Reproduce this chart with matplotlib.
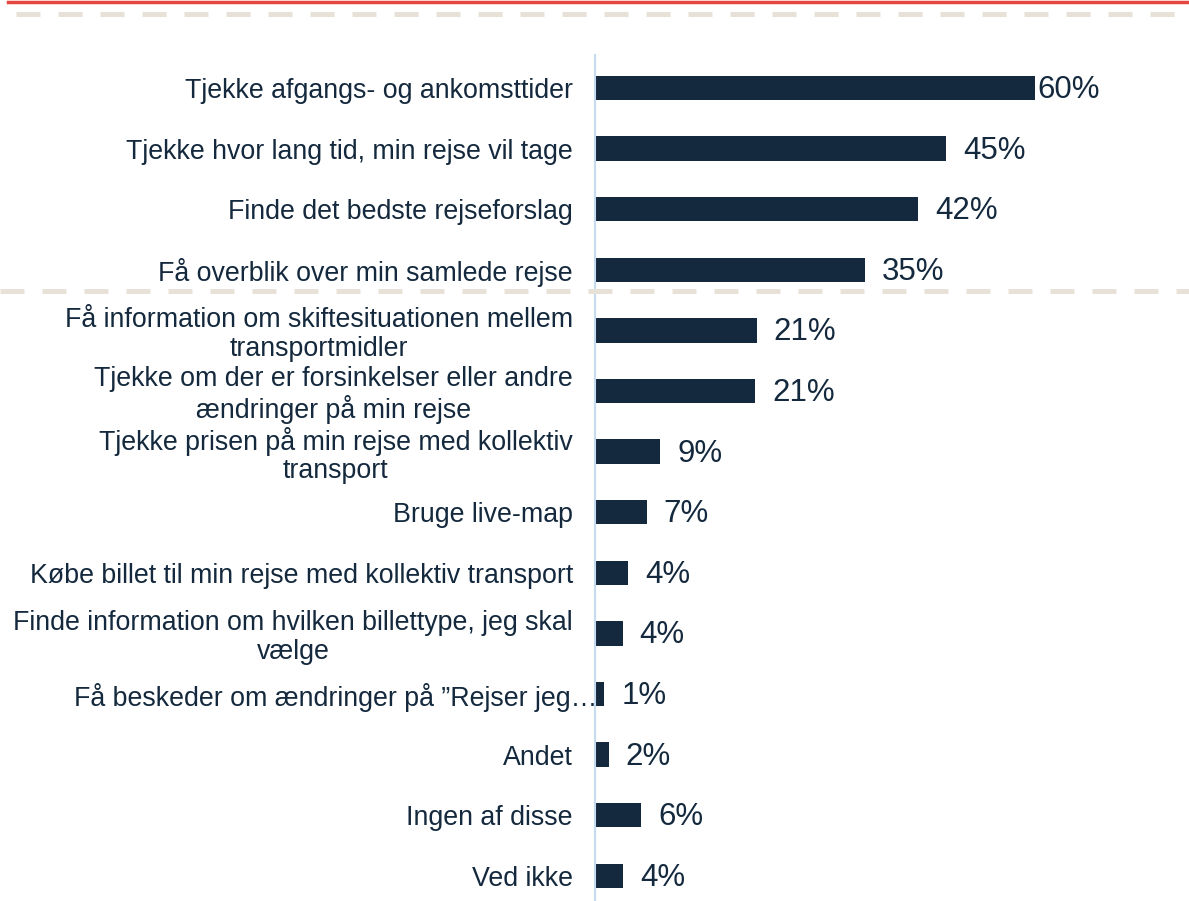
import matplotlib
matplotlib.use("Agg")
import matplotlib.pyplot as plt
import matplotlib.transforms as mtransforms
from matplotlib.lines import Line2D

plt.rcParams['font.family'] = ['Liberation Sans', 'DejaVu Sans']

categories = [
    "Tjekke afgangs- og ankomsttider",
    "Tjekke hvor lang tid, min rejse vil tage",
    "Finde det bedste rejseforslag",
    "Få overblik over min samlede rejse",
    "Få information om skiftesituationen mellem\ntransportmidler",
    "Tjekke om der er forsinkelser eller andre\nændringer på min rejse",
    "Tjekke prisen på min rejse med kollektiv\ntransport",
    "Bruge live-map",
    "Købe billet til min rejse med kollektiv transport",
    "Finde information om hvilken billettype, jeg skal\nvælge",
    "Få beskeder om ændringer på \u201dRejser jeg\u2026",
    "Andet",
    "Ingen af disse",
    "Ved ikke",
]
# bar lengths as drawn, and the labels printed next to them
values = [57.2, 45.6, 42.0, 35.0, 21.0, 20.8, 8.5, 6.7, 4.3, 3.6, 1.2, 1.8, 6.0, 3.7]
value_labels = ["60%", "45%", "42%", "35%", "21%", "21%", "9%", "7%",
                "4%", "4%", "1%", "2%", "6%", "4%"]

navy = "#14293d"
W, H = 1189, 901

fig = plt.figure(figsize=(W / 100, H / 100), dpi=100)

# decorative lines at the top and the separator
fig.add_artist(Line2D([8 / W, 1], [1 - 2 / H, 1 - 2 / H], color="#e5463f", lw=2.5))
fig.add_artist(Line2D([16 / W, 1180 / W], [1 - 14 / H, 1 - 14 / H], color="#e8e1d7",
                      lw=3.6, dashes=(4.8, 3.6)))
fig.add_artist(Line2D([0, 1], [1 - 291 / H, 1 - 291 / H], color="#e8e1d7",
                      lw=3.6, dashes=(4.8, 3.6)))

ax_left = 595 / W
ax = fig.add_axes([ax_left, 0, 1 - ax_left, 1 - 55 / H])

pos = list(range(len(categories)))
ax.barh(pos, values, height=0.4, color=navy)

px_per_pct = 7.7
ax.set_xlim(0, (W - 595) / px_per_pct)
step = 60.6
ax.set_ylim((901 - 88) / step, (55 - 88) / step)

for y, v, lab in zip(pos, values, value_labels):
    off = 2 if y == 0 else 17
    ax.annotate(lab, (v, y), xytext=(off * 0.72, -1.5), textcoords="offset points",
                va="center", ha="left", fontsize=22.5, color=navy)

ax.set_yticks(pos)
ax.set_yticklabels(categories, fontsize=19.3, color=navy, multialignment="center",
                   linespacing=1.12)
ax.tick_params(axis="y", length=0, pad=16)

# the truncated label runs over the axis line in the original
lbl = ax.get_yticklabels()[10]
lbl.set_transform(lbl.get_transform() +
                  mtransforms.ScaledTranslation(25 / 100, 0, fig.dpi_scale_trans))

ax.set_xticks([])
for s in ["top", "right", "bottom"]:
    ax.spines[s].set_visible(False)
ax.spines["left"].set_color("#c5dcf0")
ax.spines["left"].set_linewidth(1.5)

fig.savefig("out.png", dpi=100)
